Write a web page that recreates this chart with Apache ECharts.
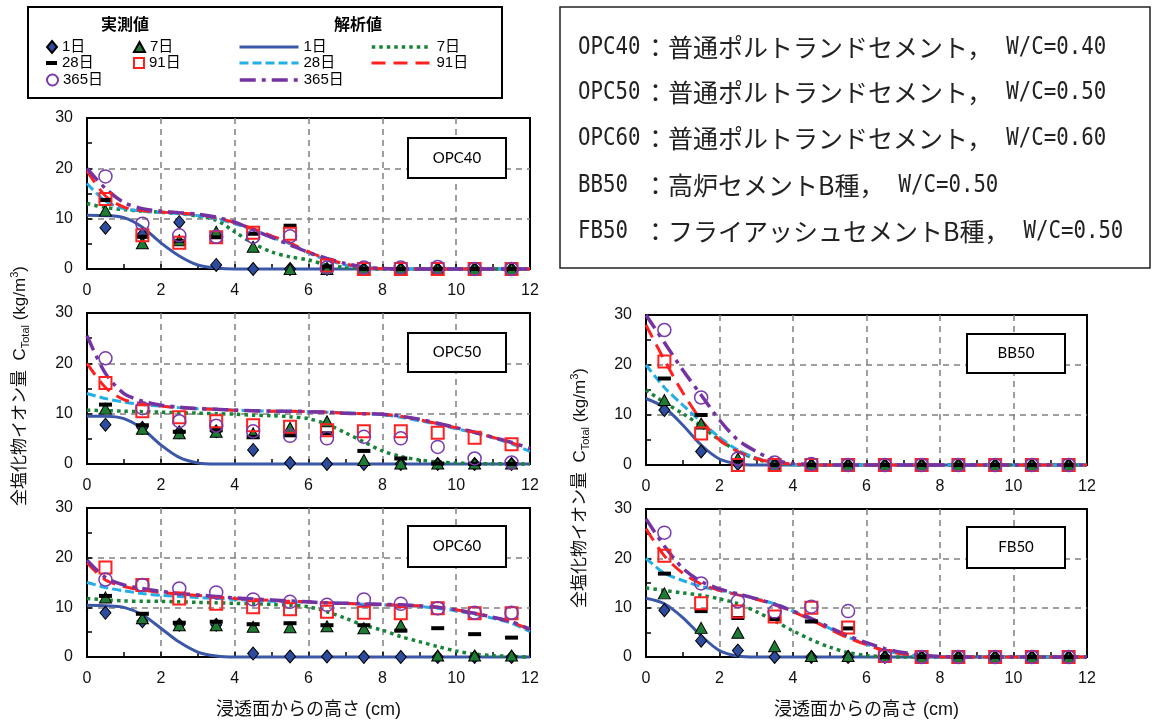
<!DOCTYPE html>
<html><head><meta charset="utf-8">
<script src="https://cdn.jsdelivr.net/npm/echarts@6/dist/echarts.min.js"></script>
<style>html,body{margin:0;padding:0;background:#fff}#c{width:1153px;height:720px}</style>
</head><body><div id="c"></div>
<script>
// ---------- data ----------
const measX = [0.5,1.5,2.5,3.5,4.5,5.5,6.5,7.5,8.5,9.5,10.5,11.5];
const lineX = [0,0.5,1,1.5,2,2.5,3,3.5,4,4.5,5,5.5,6,6.5,7,7.5,8,8.5,9,9.5,10,10.5,11,11.5,12];
const xTicks = [0,2,4,6,8,10,12];
const yTicks = [0,10,20,30];
const dayLabels = ['1日','7日','28日','91日','365日'];
const panelNames = ['OPC40','OPC50','OPC60','BB50','FB50'];

// OPC40 measured (実測値)
const OPC40_m1   = [8.2,6.8,9.3,0.8,0,0,0,0,0,0,0,0];
const OPC40_m7   = [11.6,5.1,5.7,7.4,4.4,0,0,0,0,0,0,0];
const OPC40_m28  = [13.7,6.4,5.6,6.3,7.0,8.6,0.5,0,0,0,0,0];
const OPC40_m91  = [13.9,6.7,5.2,6.3,7.2,7.0,0.7,0,0,0,0,0];
const OPC40_m365 = [18.4,9.0,6.7,6.4,6.4,6.5,0.3,0.3,0.3,0.4,0,0];
// OPC40 analysis (解析値)
const OPC40_c1   = [10.7,10.6,10.2,8.3,5.2,2.6,0.8,0.2,0,0,0,0,0,0,0,0,0,0,0,0,0,0,0,0,0];
const OPC40_c7   = [13.0,12.2,11.8,11.5,11.3,11.0,10.5,9.7,7.4,5.1,3.4,2.4,1.8,0.8,0.3,0.1,0,0,0,0,0,0,0,0,0];
const OPC40_c28  = [17.0,13.5,12.0,11.5,11.2,11.0,10.6,10.0,9.0,7.8,6.3,5.0,3.2,1.8,0.8,0.3,0.1,0,0,0,0,0,0,0,0];
const OPC40_c91  = [19.5,14.5,12.3,11.6,11.3,11.1,10.8,10.2,9.2,8.0,6.6,5.2,3.4,2.0,1.0,0.3,0.05,0,0,0,0,0,0,0,0];
const OPC40_c365 = [20.0,16.0,13.2,12.0,11.5,11.2,10.9,10.3,9.3,7.8,6.3,4.8,3.3,2.1,1.1,0.4,0.1,0,0,0,0,0,0,0,0];

// OPC50
const OPC50_m1   = [7.8,7.2,6.3,6.5,2.8,0.2,0,0,0,0,0,0];
const OPC50_m7   = [11.0,7.0,6.1,6.4,6.1,7.2,8.5,0.8,0.1,0.1,0.1,0.1];
const OPC50_m28  = [11.8,7.7,6.4,6.7,5.4,5.7,6.1,2.6,1.1,0.1,0,0];
const OPC50_m91  = [16.1,10.5,9.3,8.5,7.7,7.4,6.7,6.5,6.5,6.2,5.2,3.9];
const OPC50_m365 = [21.0,11.1,8.5,7.6,6.5,5.6,5.1,5.4,5.1,3.4,1.1,0.3];
const OPC50_c1   = [9.5,9.5,9.0,7.0,3.8,1.3,0.2,0,0,0,0,0,0,0,0,0,0,0,0,0,0,0,0,0,0];
const OPC50_c7   = [10.7,10.6,10.5,10.4,10.3,10.2,10.1,10.0,9.9,9.7,9.6,9.4,9.0,7.9,6.2,4.4,2.6,1.5,0.8,0.4,0.2,0.1,0.05,0,0];
const OPC50_c28  = [14.0,13.0,12.3,11.8,11.5,11.2,11.0,10.9,10.7,10.6,10.5,10.5,10.4,10.3,10.2,10.0,9.8,9.3,8.6,7.9,7.0,6.2,5.2,4.0,2.5];
const OPC50_c91  = [20.0,15.2,12.8,12.0,11.5,11.2,11.0,10.9,10.7,10.6,10.5,10.5,10.4,10.3,10.1,10.0,9.9,9.5,8.8,8.0,7.2,6.3,5.3,4.2,3.0];
const OPC50_c365 = [25.5,18.0,14.0,12.5,11.7,11.3,11.0,10.9,10.7,10.6,10.5,10.5,10.4,10.3,10.1,10.0,9.9,9.5,8.9,8.1,7.2,6.3,5.3,4.3,3.1];

// OPC60
const OPC60_m1   = [8.9,7.2,6.5,6.5,0.7,0.1,0.1,0,0,0,0,0];
const OPC60_m7   = [12.0,7.8,6.4,6.4,6.1,6.0,6.2,5.8,6.4,0.3,0.3,0.3];
const OPC60_m28  = [12.3,8.7,6.9,7.1,6.6,6.8,6.4,6.4,5.3,5.8,4.6,3.9];
const OPC60_m91  = [18.0,14.5,11.8,10.7,10.0,9.6,9.1,8.9,8.8,9.8,8.8,8.8];
const OPC60_m365 = [15.6,14.5,13.8,13.0,11.6,11.1,10.5,11.6,10.7,9.8,8.9,8.9];
const OPC60_c1   = [10.4,10.3,10.0,8.5,5.8,3.0,1.0,0.2,0,0,0,0,0,0,0,0,0,0,0,0,0,0,0,0,0];
const OPC60_c7   = [11.8,11.5,11.3,11.2,11.2,11.1,11.0,10.9,10.8,10.7,10.6,10.4,10.1,9.1,7.8,6.4,5.4,4.1,3.1,2.1,1.2,0.6,0.3,0.1,0];
const OPC60_c28  = [15.0,14.0,13.3,12.8,12.4,12.2,12.0,11.8,11.6,11.4,11.2,11.1,11.0,10.9,10.8,10.6,10.5,10.4,10.2,9.8,9.3,8.6,7.8,6.8,5.1];
const OPC60_c91  = [19.0,15.5,14.2,13.5,13.0,12.7,12.4,12.1,11.8,11.6,11.4,11.2,11.1,10.9,10.8,10.6,10.5,10.4,10.3,10.0,9.5,8.8,8.0,7.0,5.5];
const OPC60_c365 = [19.5,16.0,14.5,13.8,13.2,12.8,12.5,12.2,11.9,11.7,11.5,11.3,11.1,10.9,10.8,10.7,10.6,10.5,10.3,10.0,9.5,8.8,8.0,7.1,5.6];

// BB50
const BB50_m1   = [11.0,2.7,0.2,0,0,0,0,0,0,0,0,0];
const BB50_m7   = [13.0,8.3,1.3,0,0,0,0,0,0,0,0,0];
const BB50_m28  = [17.3,10.0,0.7,0,0,0,0,0,0,0,0,0];
const BB50_m91  = [20.7,6.3,0,0,0,0,0,0,0,0,0,0];
const BB50_m365 = [27.0,13.5,1.3,0.5,0.2,0,0,0,0,0,0,0];
const BB50_c1   = [13.3,11.5,8.0,4.0,1.2,0.2,0,0,0,0,0,0,0,0,0,0,0,0,0,0,0,0,0,0,0];
const BB50_c7   = [15.0,12.5,10.3,7.8,5.0,2.8,1.2,0.4,0.1,0,0,0,0,0,0,0,0,0,0,0,0,0,0,0,0];
const BB50_c28  = [20.0,15.5,12.0,8.7,5.5,3.0,1.4,0.5,0.1,0,0,0,0,0,0,0,0,0,0,0,0,0,0,0,0];
const BB50_c91  = [28.0,21.0,14.5,9.0,5.0,2.7,1.3,0.5,0.2,0,0,0,0,0,0,0,0,0,0,0,0,0,0,0,0];
const BB50_c365 = [30.0,24.5,19.0,14.0,9.0,5.0,2.7,1.0,0.3,0.1,0,0,0,0,0,0,0,0,0,0,0,0,0,0,0];

// FB50
const FB50_m1   = [9.5,3.3,1.3,0,0,0,0,0,0,0,0,0];
const FB50_m7   = [12.9,5.9,4.9,2.2,0.2,0.2,0,0,0,0,0,0];
const FB50_m28  = [16.9,9.3,7.9,7.7,7.2,5.8,0,0,0,0,0,0];
const FB50_m91  = [20.5,10.9,9.2,8.2,10.0,6.0,0.2,0,0,0,0,0];
const FB50_m365 = [25.2,14.9,11.3,9.2,10.2,9.3,0.2,0,0,0,0,0];
const FB50_c1   = [11.9,10.8,8.0,4.3,1.3,0.2,0,0,0,0,0,0,0,0,0,0,0,0,0,0,0,0,0,0,0];
const FB50_c7   = [14.0,13.5,13.0,12.5,11.8,10.8,9.2,7.3,5.3,3.5,2.0,0.9,0.3,0.1,0,0,0,0,0,0,0,0,0,0,0];
const FB50_c28  = [20.0,17.0,15.5,14.3,13.5,12.7,11.8,10.8,9.3,7.6,5.8,4.0,2.6,1.3,0.6,0.2,0,0,0,0,0,0,0,0,0];
const FB50_c91  = [26.0,20.5,17.0,14.8,13.5,12.6,11.7,10.6,9.2,7.5,5.6,3.9,2.5,1.3,0.6,0.2,0,0,0,0,0,0,0,0,0];
const FB50_c365 = [28.0,22.5,18.0,15.3,13.8,12.8,11.8,10.7,9.3,7.8,6.0,4.3,2.9,1.7,0.9,0.4,0.1,0,0,0,0,0,0,0,0];

const descLabels = ['OPC40','OPC50','OPC60','BB50','FB50'];
const descCement = ['：普通ポルトランドセメント，','：普通ポルトランドセメント，','：普通ポルトランドセメント，','：高炉セメントB種，','：フライアッシュセメントB種，'];
const descWC = ['W/C=0.40','W/C=0.50','W/C=0.60','W/C=0.50','W/C=0.50'];

// ---------- styling ----------
const FONT = "'Liberation Sans', Arial, 'Noto Sans CJK JP', sans-serif";
const CJK = "'Noto Sans CJK JP', sans-serif";
const MONO = "'DejaVu Sans Mono', 'Liberation Mono', monospace";

const panels = [
  {meas:[OPC40_m1,OPC40_m7,OPC40_m28,OPC40_m91,OPC40_m365], calc:[OPC40_c1,OPC40_c7,OPC40_c28,OPC40_c91,OPC40_c365]},
  {meas:[OPC50_m1,OPC50_m7,OPC50_m28,OPC50_m91,OPC50_m365], calc:[OPC50_c1,OPC50_c7,OPC50_c28,OPC50_c91,OPC50_c365]},
  {meas:[OPC60_m1,OPC60_m7,OPC60_m28,OPC60_m91,OPC60_m365], calc:[OPC60_c1,OPC60_c7,OPC60_c28,OPC60_c91,OPC60_c365]},
  {meas:[BB50_m1,BB50_m7,BB50_m28,BB50_m91,BB50_m365], calc:[BB50_c1,BB50_c7,BB50_c28,BB50_c91,BB50_c365]},
  {meas:[FB50_m1,FB50_m7,FB50_m28,FB50_m91,FB50_m365], calc:[FB50_c1,FB50_c7,FB50_c28,FB50_c91,FB50_c365]}
];
const gridBoxes = [
  {left:87, top:118, width:443, height:151},
  {left:87, top:313, width:443, height:151},
  {left:87, top:508, width:443, height:149},
  {left:646, top:315, width:441, height:150},
  {left:646, top:509, width:441, height:149}
];
const labelBoxes = [
  {x:408,y:138,w:98,h:40},{x:408,y:333,w:98,h:39},{x:408,y:526,w:98,h:41},
  {x:967,y:334,w:98,h:39},{x:967,y:527,w:98,h:41}
];
const lineStyles = [
  {color:'#3B57A8', width:3, type:'solid'},
  {color:'#178438', width:3.5, type:[3.5,4], cap:'butt'},
  {color:'#22AEE6', width:3, type:[9,4]},
  {color:'#FF2020', width:3, type:[14,8]},
  {color:'#7432A2', width:3.5, type:[16,6,4,6]}
];
const measStyles = [
  {symbol:'diamond', size:[11,13], item:{color:'#2E4C9D', borderColor:'#000', borderWidth:1}},
  {symbol:'triangle', size:[12,11], item:{color:'#1E7B34', borderColor:'#000', borderWidth:1}},
  {symbol:'rect', size:[13,4], item:{color:'#000'}},
  {symbol:'rect', size:[12,12], item:{color:'rgba(255,255,255,0)', borderColor:'#FF2020', borderWidth:2}},
  {symbol:'circle', size:13, item:{color:'rgba(255,255,255,0)', borderColor:'#7A3AAE', borderWidth:1.5}}
];

// ---------- build ----------
const grids = [], xAxes = [], yAxes = [], series = [];
gridBoxes.forEach((g, gi) => {
  grids.push(Object.assign({show:true, borderColor:'#000', borderWidth:2, backgroundColor:'transparent', containLabel:false}, g));
  const bottomRow = (gi === 2 || gi === 4);
  xAxes.push({
    type:'value', gridIndex:gi, min:xTicks[0], max:xTicks[xTicks.length-1], interval:xTicks[1]-xTicks[0],
    axisLine:{show:false},
    axisTick:{show:true, inside:true, length:5, lineStyle:{color:'#000', width:1.5}},
    minorTick:{show:true, splitNumber:2, length:5, lineStyle:{color:'#000', width:1.5}},
    axisLabel:{fontSize:16, color:'#111', fontFamily:FONT, margin:14},
    splitLine:{show:true, showMinLine:false, showMaxLine:false, lineStyle:{color:'#808080', width:1.5, type:[6,5]}},
    name: bottomRow ? '浸透面からの高さ (cm)' : '',
    nameLocation:'middle', nameGap:44,
    nameTextStyle:{fontSize:18, color:'#111', fontFamily:FONT}
  });
  yAxes.push({
    type:'value', gridIndex:gi, min:yTicks[0], max:yTicks[yTicks.length-1], interval:yTicks[1]-yTicks[0],
    axisLine:{show:false},
    axisTick:{show:true, inside:true, length:5, lineStyle:{color:'#000', width:1.5}},
    minorTick:{show:true, splitNumber:2, length:5, lineStyle:{color:'#000', width:1.5}},
    axisLabel:{fontSize:16, color:'#111', fontFamily:FONT, margin:14},
    splitLine:{show:true, showMinLine:false, showMaxLine:false, lineStyle:{color:'#808080', width:1.5, type:[6,5]}}
  });
  const p = panels[gi];
  p.calc.forEach((arr, k) => {
    series.push({
      type:'line', name:'C'+k, xAxisIndex:gi, yAxisIndex:gi,
      data: lineX.map((x, i) => [x, arr[i]]),
      symbol:'none', smooth:0.3, clip:false, silent:true,
      itemStyle:{color:lineStyles[k].color},
      lineStyle:Object.assign({}, lineStyles[k]), z:2+k
    });
  });
  p.meas.forEach((arr, k) => {
    const ms = measStyles[k];
    series.push({
      type:'scatter', name:'M'+k, xAxisIndex:gi, yAxisIndex:gi,
      data: measX.map((x, i) => [x, arr[i]]),
      symbol:ms.symbol, symbolSize:ms.size, clip:false, silent:true,
      itemStyle:Object.assign({opacity:1}, ms.item), z:10+k
    });
  });
});

function leg(name, left, cy, w, h, isLine) {
  const o = {
    data:[name], left:left, top:cy-8, itemWidth:w, itemHeight:h, padding:0, selectedMode:false,
    formatter: n => dayLabels[+n.slice(1)],
    textStyle:{fontSize:15, lineHeight:16, color:'#000', fontFamily:FONT},
    lineStyle:{width:'inherit'}
  };
  if (isLine) o.itemStyle = {color:'rgba(0,0,0,0)', borderColor:'rgba(0,0,0,0)', borderWidth:0, opacity:0};
  return o;
}
const legends = [
  leg('M0', 46, 47, 10, 12), leg('M1', 133, 47, 11, 10),
  leg('M2', 46, 63, 11, 4),  leg('M3', 133, 63, 10, 10),
  leg('M4', 46, 80, 11, 11),
  leg('C0', 238, 47, 59, 14, true), leg('C1', 370, 47, 60, 14, true),
  leg('C2', 238, 63, 59, 14, true), leg('C3', 370, 63, 60, 14, true),
  leg('C4', 238, 80, 59, 14, true)
];

const ytitle = '全塩化物イオン量  C{s|Total} (kg/m{p|3})';
const ytitleRich = {s:{fontSize:11, fontFamily:FONT, fill:'#111', verticalAlign:'bottom'}, p:{fontSize:11, fontFamily:FONT, fill:'#111', verticalAlign:'top'}};
const graphics = [
  {type:'rect', z:100, shape:{x:28, y:7, width:474, height:91}, style:{fill:'none', stroke:'#000', lineWidth:2}},
  {type:'text', z:100, x:125, y:24, style:{text:'実測値', align:'center', verticalAlign:'middle', font:"bold 16px " + CJK, fill:'#000'}},
  {type:'text', z:100, x:358, y:24, style:{text:'解析値', align:'center', verticalAlign:'middle', font:"bold 16px " + CJK, fill:'#000'}},
  {type:'rect', z:100, shape:{x:560, y:7, width:590, height:261}, style:{fill:'none', stroke:'#222', lineWidth:1.5}},
  {type:'text', z:100, x:20, y:386, rotation:Math.PI/2,
    style:{text:ytitle, align:'center', verticalAlign:'middle', fontSize:17, lineHeight:22, fontFamily:FONT, fill:'#111', rich:ytitleRich}},
  {type:'text', z:100, x:580, y:488, rotation:Math.PI/2,
    style:{text:ytitle, align:'center', verticalAlign:'middle', fontSize:17, lineHeight:22, fontFamily:FONT, fill:'#111', rich:ytitleRich}}
];
// description box texts (narrow half-width latin + full-width CJK)
const mctx = document.createElement('canvas').getContext('2d');
mctx.font = "25px " + CJK;
const descY = [47, 92, 138, 185, 231];
const latinScale = 0.83;
descLabels.forEach((t, i) => {
  graphics.push({type:'text', z:100, x:578, y:descY[i], scaleX:latinScale, style:{text:t, align:'left', verticalAlign:'middle', font:"25px " + MONO, fill:'#222'}});
  graphics.push({type:'text', z:100, x:643, y:descY[i], style:{text:descCement[i], align:'left', verticalAlign:'middle', font:"25px " + CJK, fill:'#222'}});
  const w = mctx.measureText(descCement[i]).width;
  graphics.push({type:'text', z:100, x:643 + w + 14, y:descY[i], scaleX:latinScale, style:{text:descWC[i], align:'left', verticalAlign:'middle', font:"25px " + MONO, fill:'#222'}});
});
labelBoxes.forEach((b, i) => {
  graphics.push({type:'rect', z:100, shape:{x:b.x, y:b.y, width:b.w, height:b.h}, style:{fill:'#fff', stroke:'#000', lineWidth:2}});
  graphics.push({type:'text', z:101, x:b.x + b.w/2, y:b.y + b.h/2, style:{text:panelNames[i], align:'center', verticalAlign:'middle', font:"15px Lato, 'Open Sans', sans-serif", fill:'#000'}});
});

const chart = echarts.init(document.getElementById('c'), null, {renderer:'canvas'});
chart.setOption({
  animation:false,
  backgroundColor:'#fff',
  grid:grids, xAxis:xAxes, yAxis:yAxes,
  legend:legends,
  series:series,
  graphic:graphics
});
</script>
</body></html>
